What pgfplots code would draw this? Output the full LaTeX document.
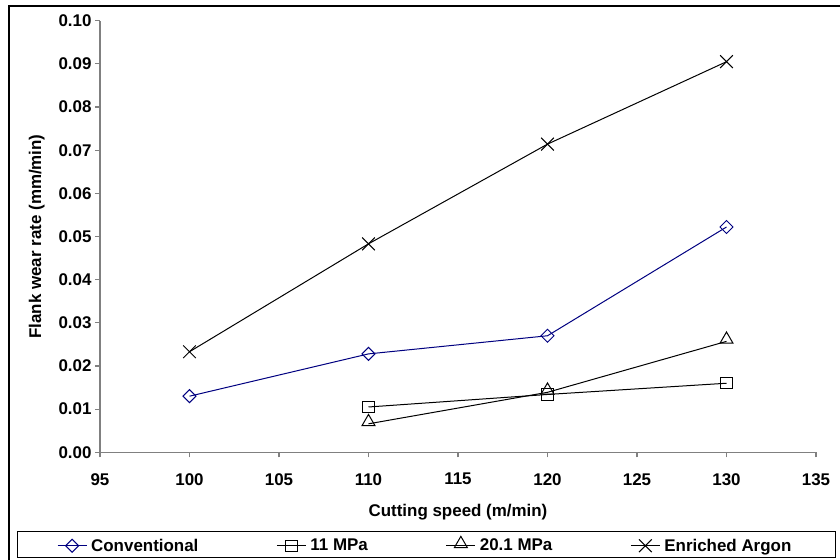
\documentclass[border=0pt]{standalone}
\usepackage{fontspec}
\setmainfont{Liberation Sans}
\usepackage{pgfplots}
\pgfplotsset{compat=1.18}
\definecolor{convblue}{RGB}{0,0,128}
\definecolor{axisgray}{RGB}{128,128,128}
\newcommand{\chartfont}{\bfseries\fontsize{17}{20}\selectfont}

\begin{document}
\begin{tikzpicture}
\begin{axis}[
  at={(100bp,107.7bp)}, anchor=south west,
  scale only axis, width=716bp, height=431.6bp,
  xmin=95, xmax=135, ymin=0, ymax=0.1,
  xtick={95,100,105,110,115,120,125,130,135},
  ytick={0,0.01,0.02,0.03,0.04,0.05,0.06,0.07,0.08,0.09,0.1},
  axis x line*=bottom, axis y line*=left,
  axis line style={axisgray, line width=1.2bp, -},
  tick style={axisgray, line width=1.2bp},
  tick align=outside, major tick length=5bp,
  /pgf/number format/assume math mode=true,
  tick label style={font=\chartfont, text=black},
  label style={font=\chartfont},
  xticklabel style={yshift=-12.5bp},
  yticklabel style={/pgf/number format/.cd, fixed, fixed zerofill, precision=2},
  xlabel={Cutting speed (m/min)},
  ylabel={Flank wear rate (mm/min)},
  xlabel style={at={(axis description cs:0.5,-0.1487)}, anchor=base},
  ylabel style={at={(axis description cs:-0.0824,0.5)}, anchor=base},
  legend columns=4,
  legend style={at={(axis description cs:-0.0601,-0.2148)}, anchor=west,
    draw=none, fill=none, inner sep=0pt, font=\chartfont,
    nodes={inner sep=1bp},
    /tikz/every odd column/.append style={column sep=3bp},
    /tikz/every even column/.append style={column sep=77bp}},
  legend image code/.code={\draw[mark repeat=2,mark phase=2,#1]
    plot coordinates {(0bp,0bp) (14.5bp,0bp) (29bp,0bp)};},
]
% Conventional cooling
\addplot[convblue, line width=1bp, mark=square, mark size=4.6bp,
  mark options={rotate=45, fill=white}]
  coordinates {(100,0.0130) (110,0.0228) (120,0.0270) (130,0.0522)};
\addlegendentry{Conventional}
% High-pressure coolant, 11 MPa
\addplot[black, line width=1bp, mark=square, mark size=5.6bp,
  mark options={fill=white}]
  coordinates {(110,0.0105) (120,0.0134) (130,0.0160)};
\addlegendentry{11 MPa}
% High-pressure coolant, 20.1 MPa
\addplot[black, line width=1bp, mark=triangle, mark size=7.5bp,
  mark options={fill=white, yshift=1.9bp}]
  coordinates {(110,0.0066) (120,0.0139) (130,0.0257)};
\addlegendentry{20.1 MPa}
% Argon-enriched environment
\addplot[black, line width=1bp, mark=x, mark size=9bp]
  coordinates {(100,0.0233) (110,0.0483) (120,0.0714) (130,0.0905)};
\addlegendentry{Enriched Argon}
\end{axis}
% chart frame and legend box
\draw[line width=1.5bp] (9bp,-10bp) -- (9bp,554bp) -- (850bp,554bp);
\draw[line width=1bp] (17bp,2bp) rectangle (835bp,28bp);
\pgfresetboundingbox
\useasboundingbox (0,0) rectangle (840bp,560bp);
\end{tikzpicture}
\end{document}
